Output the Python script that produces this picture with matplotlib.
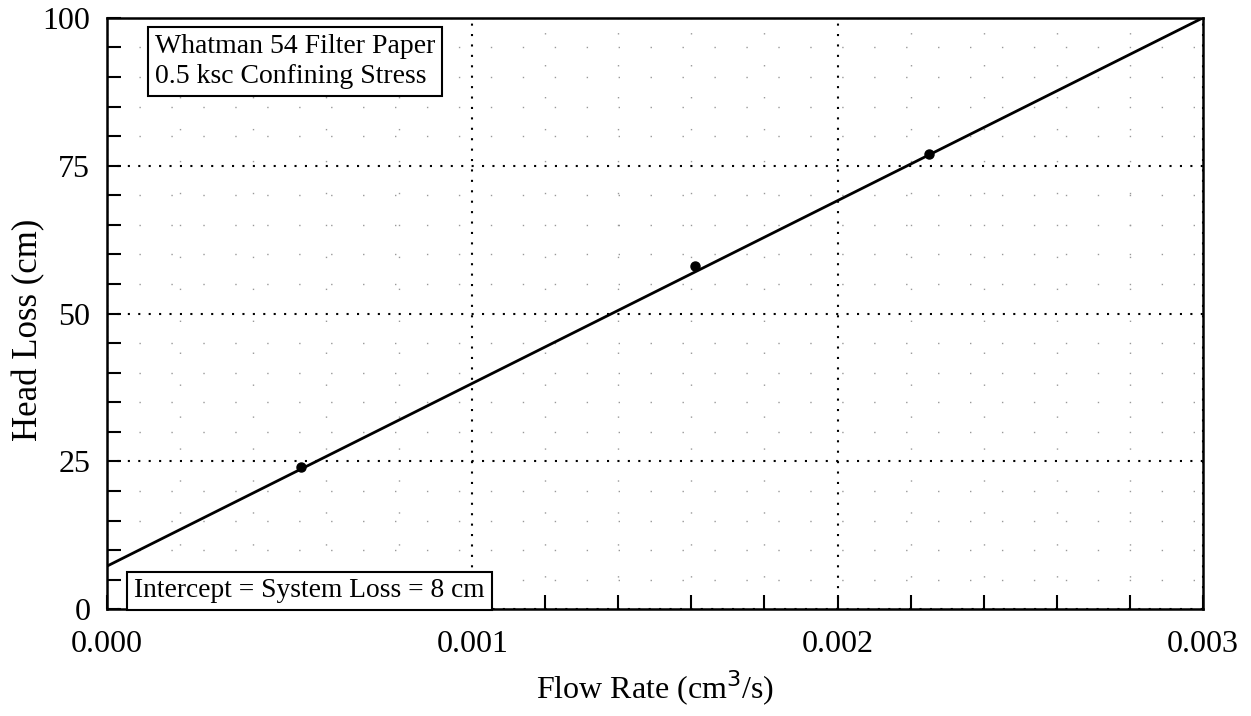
import numpy as np
import matplotlib.pyplot as plt
from matplotlib.ticker import MultipleLocator

plt.rcParams['font.family'] = ['Liberation Serif', 'DejaVu Serif']

# measured points
flow = [0.00053, 0.00161, 0.00225]
head = [24, 58, 77]

# fitted line (intercept = system loss)
fit_x = [0.0, 0.003]
fit_y = [7.3, 100.0]

x_ticks = [0.000, 0.001, 0.002, 0.003]
x_ticklabels = ["0.000", "0.001", "0.002", "0.003"]
y_ticks = [0, 25, 50, 75, 100]

fig = plt.figure(figsize=(12.51, 7.16), dpi=100)
ax = fig.add_axes([0.0855, 0.149, 0.876, 0.826])

ax.plot(fit_x, fit_y, color='black', lw=2, zorder=3)
ax.plot(flow, head, 'o', color='black', ms=6.5, zorder=4)

ax.set_xlim(0, 0.003)
ax.set_ylim(0, 100)
ax.set_xticks(x_ticks)
ax.set_xticklabels(x_ticklabels)
ax.set_yticks(y_ticks)
ax.xaxis.set_minor_locator(MultipleLocator(0.0002))
ax.yaxis.set_minor_locator(MultipleLocator(5))

ax.tick_params(which='both', direction='in', length=10, width=1.5,
               top=False, right=False)
ax.tick_params(axis='x', which='major', labelsize=23, pad=15)
ax.tick_params(axis='y', which='major', labelsize=23, pad=12)

ax.grid(which='major', color='black', linestyle=(0, (1, 4)), lw=1.5)
ax.grid(which='minor', color='#999999', linestyle=(0, (1, 22)), lw=1)

for s in ax.spines.values():
    s.set_linewidth(1.8)

ax.set_xlabel("Flow Rate (cm$^3$/s)", fontsize=23, labelpad=7)
ax.set_ylabel("Head Loss (cm)", fontsize=25)
ax.yaxis.set_label_coords(-0.056, 0.472)

box = dict(boxstyle='square,pad=0.25', facecolor='white', edgecolor='black', lw=1.5)
ax.text(0.044, 0.973, "Whatman 54 Filter Paper\n0.5 ksc Confining Stress",
        transform=ax.transAxes, fontsize=20, va='top', ha='left',
        bbox=box, zorder=5, linespacing=1.25)
ax.text(0.025, 0.01, "Intercept = System Loss = 8 cm",
        transform=ax.transAxes, fontsize=19.8, va='bottom', ha='left',
        bbox=box, zorder=5)

fig.savefig("out.png", dpi=100)
